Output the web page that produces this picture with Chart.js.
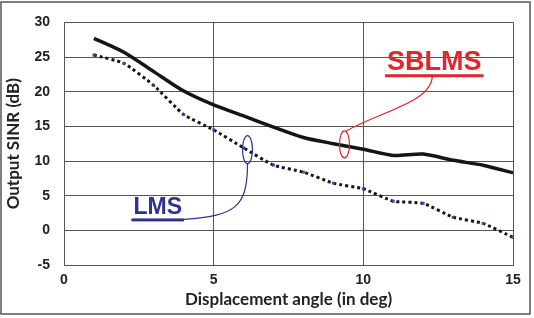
<!DOCTYPE html>
<html>
<head>
<meta charset="utf-8">
<script src="https://cdn.jsdelivr.net/npm/chart.js@4"></script>
<style>
  body { margin: 0; background: #fff; }
  #wrap { width: 534px; height: 318px; }
</style>
</head>
<body>
<div id="wrap"><canvas id="chart" width="534" height="318"></canvas></div>
<script>
// data
var angles = [1, 2, 3, 4, 5, 6, 7, 8, 9, 10, 11, 12, 13, 14, 15];
var sblms = [27.7, 25.7, 22.9, 20.1, 18.1, 16.5, 14.9, 13.4, 12.5, 11.7, 10.8, 11.0, 10.1, 9.4, 8.3];
var lms = [25.3, 24.1, 20.9, 16.7, 14.5, 11.9, 9.4, 8.4, 6.8, 6.0, 4.2, 3.9, 1.9, 1.0, -1.0];
var xTicks = [0, 5, 10, 15];
var yTicks = [-5, 0, 5, 10, 15, 20, 25, 30];

var tickFont = { family: "'Liberation Sans', Arial, sans-serif", size: 14, weight: 'bold' };
var titleFont = { family: "Lato, 'Open Sans', sans-serif", size: 17, weight: 'bold' };

// callouts: ellipse around a curve, a line to an underlined label
var callouts = [
  { text: 'SBLMS', color: '#e3262b', font: "bold 27px 'Liberation Sans', Arial, sans-serif",
    ex: 9.37, ey: 12.4, rx: 5, ry: 13.5, lx: 12.37, ly: 23.1, side: 'top' },
  { text: 'LMS', color: '#2e3192', font: "bold 23px 'Liberation Sans', Arial, sans-serif",
    ex: 6.13, ey: 11.65, rx: 5, ry: 14, lx: 3.13, ly: 2.3, side: 'bottom' }
];

var calloutPlugin = {
  id: 'callouts',
  afterDatasetsDraw: function(chart) {
    var ctx = chart.ctx;
    var xs = chart.scales.x, ys = chart.scales.y;
    callouts.forEach(function(c) {
      var ex = xs.getPixelForValue(c.ex), ey = ys.getPixelForValue(c.ey);
      var lx = xs.getPixelForValue(c.lx), ly = ys.getPixelForValue(c.ly);
      ctx.save();
      ctx.strokeStyle = c.color;
      ctx.fillStyle = c.color;
      ctx.lineWidth = 1.2;
      ctx.beginPath();
      ctx.ellipse(ex, ey, c.rx, c.ry, 0, 0, Math.PI * 2);
      ctx.stroke();

      ctx.font = c.font;
      ctx.textAlign = 'center';
      ctx.textBaseline = 'alphabetic';
      ctx.fillText(c.text, lx, ly);
      var w = ctx.measureText(c.text).width;
      var uy = ly + 4;
      ctx.fillRect(lx - w / 2 - 2, uy, w + 4, 3);

      ctx.beginPath();
      if (c.side === 'top') {
        var sx = ex + 2, sy = ey - c.ry;
        ctx.moveTo(sx, sy);
        ctx.bezierCurveTo(sx + 33, sy - 19, lx, sy - 29, lx - 2, uy);
      } else {
        var sx2 = ex, sy2 = ey + c.ry;
        ctx.moveTo(sx2, sy2);
        ctx.bezierCurveTo(sx2, sy2 + 45, sx2 - 13, uy - 3, lx + w / 2 + 2, uy + 1);
      }
      ctx.stroke();
      ctx.restore();
    });
  }
};

var framePlugin = {
  id: 'frame',
  afterDraw: function(chart) {
    var ctx = chart.ctx;
    ctx.save();
    ctx.strokeStyle = '#555';
    ctx.lineWidth = 1.5;
    ctx.strokeRect(1, 2, 529, 312);
    ctx.restore();
  }
};

new Chart(document.getElementById('chart'), {
  type: 'line',
  data: {
    labels: angles,
    datasets: [
      {
        label: 'SBLMS',
        data: angles.map(function(a, i) { return { x: a, y: sblms[i] }; }),
        borderColor: '#151515',
        borderWidth: 3.5,
        pointRadius: 0,
        tension: 0.25,
        fill: false
      },
      {
        label: 'LMS',
        data: angles.map(function(a, i) { return { x: a, y: lms[i] }; }),
        borderColor: '#151515',
        borderWidth: 3,
        borderDash: [3, 3],
        pointRadius: 2,
        pointStyle: 'rect',
        pointBackgroundColor: '#3a4aa8',
        pointBorderWidth: 0,
        tension: 0.15,
        fill: false
      }
    ]
  },
  options: {
    responsive: false,
    animation: false,
    layout: { padding: { left: 0, top: 16, right: 21, bottom: 0 } },
    plugins: { legend: { display: false }, tooltip: { enabled: false } },
    scales: {
      x: {
        type: 'linear',
        min: 0, max: 15,
        afterBuildTicks: function(s) { s.ticks = xTicks.map(function(v) { return { value: v }; }); },
        afterFit: function(s) { s.height = 53; },
        grid: { color: '#555', lineWidth: 1, drawTicks: false },
        border: { color: '#555', width: 1 },
        ticks: { font: tickFont, color: '#222', padding: 7, maxRotation: 0 },
        title: { display: true, text: 'Displacement angle (in deg)', font: titleFont, color: '#222', padding: { top: 0, bottom: 8 } }
      },
      y: {
        min: -5, max: 30,
        afterBuildTicks: function(s) { s.ticks = yTicks.map(function(v) { return { value: v }; }); },
        afterFit: function(s) { s.width = 64; },
        grid: { color: '#555', lineWidth: 1, drawTicks: false },
        border: { color: '#555', width: 1 },
        ticks: { font: tickFont, color: '#222', padding: 14 },
        title: { display: true, text: 'Output SINR (dB)', font: titleFont, color: '#222', padding: { top: 3, bottom: 0 } }
      }
    }
  },
  plugins: [calloutPlugin, framePlugin]
});
</script>
</body>
</html>
